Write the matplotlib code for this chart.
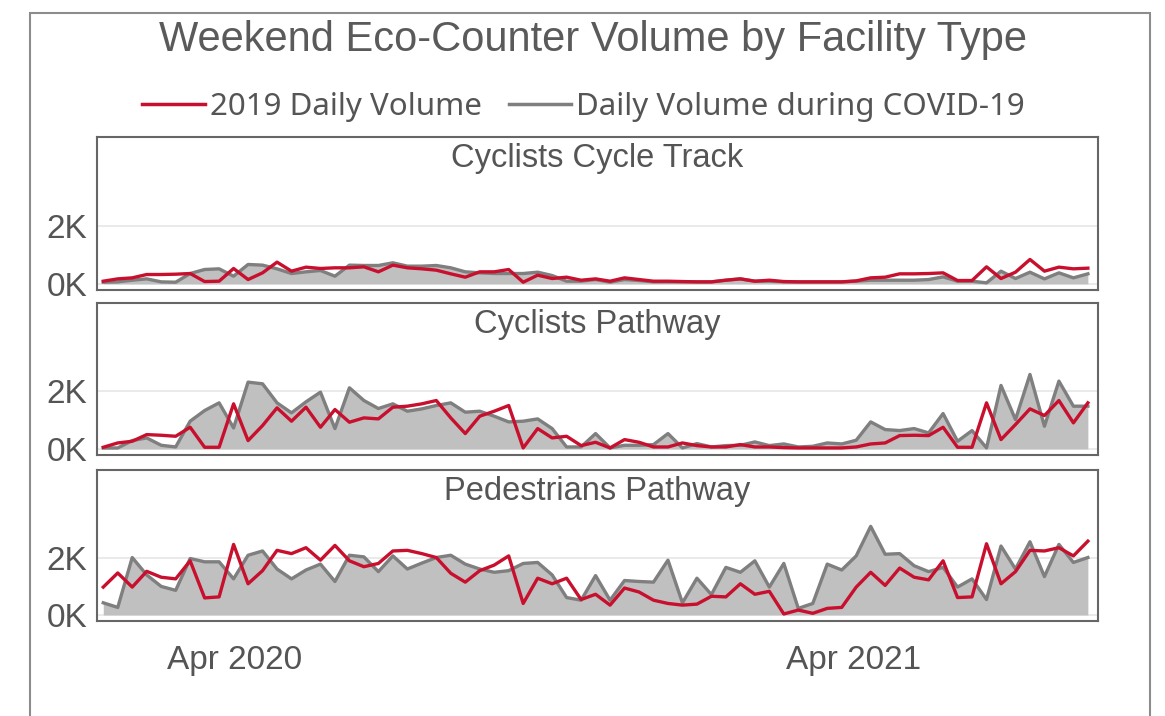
import matplotlib
matplotlib.use("Agg")
import matplotlib.pyplot as plt
from matplotlib.lines import Line2D
from matplotlib.patches import Rectangle

# one value per weekend sample
panels = ["Cyclists Cycle Track", "Cyclists Pathway", "Pedestrians Pathway"]

track_2019 = [92, 172, 207, 322, 322, 333, 356, 80, 92, 529, 149, 379, 747, 437, 575, 529, 552, 552,
              586, 414, 644, 552, 517, 471, 345, 230, 414, 414, 494, 57, 299, 184, 230, 126, 172,
              92, 207, 149, 92, 92, 80, 69, 69, 126, 172, 92, 126, 80, 69, 69, 69, 69, 103, 207,
              230, 345, 345, 356, 379, 115, 115, 586, 184, 402, 839, 437, 575, 517, 540]
track_covid = [57, 69, 126, 172, 69, 57, 356, 494, 517, 264, 667, 644, 517, 356, 414, 460, 264, 644,
               632, 632, 724, 609, 609, 632, 552, 414, 379, 356, 356, 356, 402, 287, 92, 92, 149,
               57, 149, 115, 69, 69, 69, 69, 69, 126, 172, 92, 92, 69, 69, 69, 69, 69, 92, 126,
               126, 126, 126, 149, 241, 92, 92, 35, 437, 184, 402, 172, 379, 207, 345]

path_2019 = [58, 208, 266, 497, 474, 439, 751, 58, 58, 1561, 289, 809, 1422, 960, 1445, 751, 1364,
             925, 1075, 1040, 1445, 1480, 1561, 1676, 1075, 532, 1133, 1306, 1503, 35, 705, 382,
             439, 116, 231, 35, 324, 231, 69, 69, 208, 116, 69, 69, 150, 69, 69, 46, 35, 35, 35,
             35, 69, 173, 208, 462, 474, 462, 751, 58, 58, 1595, 324, 844, 1387, 1156, 1676, 902,
             1595]
path_covid = [35, 35, 289, 382, 127, 69, 960, 1329, 1595, 728, 2312, 2254, 1595, 1249, 1630, 1965,
              705, 2116, 1676, 1399, 1561, 1306, 1387, 1503, 1595, 1272, 1306, 1133, 936, 960, 1040,
              705, 69, 69, 532, 35, 127, 127, 150, 532, 35, 185, 69, 116, 127, 243, 116, 173, 69,
              92, 208, 173, 301, 936, 671, 636, 705, 555, 1225, 266, 636, 35, 2197, 1017, 2578,
              786, 2347, 1480, 1480]

ped_2019 = [971, 1463, 971, 1520, 1314, 1257, 1886, 594, 629, 2457, 1086, 1543, 2251, 2137, 2343,
            1909, 2423, 1886, 1680, 1794, 2229, 2251, 2137, 2000, 1451, 1143, 1543, 1737, 2057, 400,
            1280, 1086, 1280, 537, 720, 343, 937, 800, 514, 400, 343, 377, 651, 629, 1086, 720, 823,
            34, 171, 57, 229, 263, 971, 1486, 1029, 1634, 1314, 1223, 1886, 606, 629, 2480, 1086,
            1509, 2251, 2229, 2343, 2057, 2571]
ped_covid = [423, 263, 2000, 1394, 994, 857, 1966, 1851, 1851, 1257, 2080, 2229, 1600, 1257, 1566,
             1771, 1166, 2080, 2023, 1509, 2057, 1600, 1806, 2000, 2080, 1771, 1600, 1486, 1543,
             1794, 1829, 1394, 606, 514, 1371, 514, 1200, 1166, 1143, 1909, 423, 1280, 709, 1657,
             1486, 1886, 971, 1794, 229, 400, 1771, 1566, 2057, 3086, 2114, 2137, 1714, 1509, 1657,
             971, 1257, 537, 2400, 1600, 2549, 1337, 2457, 1829, 2000]

series_2019 = [track_2019, path_2019, ped_2019]
series_covid = [track_covid, path_covid, ped_covid]

month_ticks = [9.1, 51.8]
month_labels = ["Apr 2020", "Apr 2021"]

RED = "#c8102e"
GRAY = "#7f7f7f"
FILL = "#c0c0c0"
TXT = "#555555"

fig = plt.figure(figsize=(11.65, 7.16), dpi=100)
fig.patch.set_facecolor("white")

# outer card border
fig.patches.append(Rectangle((30 / 1165, -0.05), 1120 / 1165, 1 - 13 / 716 + 0.05,
                             transform=fig.transFigure, fill=False, edgecolor="#8c8c8c",
                             lw=1.5, zorder=0))

boxes = [(0.595, 0.2137), (0.3645, 0.2123), (0.1327, 0.2109)]
x = list(range(len(track_2019)))

for k, name in enumerate(panels):
    bottom, height = boxes[k]
    ax = fig.add_axes([0.0833, bottom, 0.8592, height])
    ax.fill_between(x, 0, series_covid[k], color=FILL, lw=0, zorder=1)
    ax.plot(x, series_covid[k], color=GRAY, lw=2.4, zorder=2)
    ax.plot(x, series_2019[k], color=RED, lw=2.4, zorder=3)
    ax.set_xlim(-0.43, 68.7)
    ax.set_ylim(-210, 5050)
    ax.set_yticks([0, 2000])
    ax.set_yticklabels(["0K", "2K"], fontsize=24, color=TXT, family="Liberation Sans")
    ax.grid(axis="y", color="#e6e6e6", lw=1.2, zorder=0)
    ax.set_axisbelow(True)
    ax.tick_params(length=0, pad=7)
    for s in ax.spines.values():
        s.set_color("#666666")
        s.set_linewidth(1.5)
    ax.text(0.5, 0.858, name, transform=ax.transAxes, ha="center", va="center",
            fontsize=23.5, color=TXT, family="Liberation Sans")
    if k < 2:
        ax.set_xticks([])
    else:
        ax.set_xticks(month_ticks)
        ax.set_xticklabels(month_labels, fontsize=24, color=TXT, family="Liberation Sans")
        ax.tick_params(axis="x", pad=17)

fig.text(0.509, 0.944, "Weekend Eco-Counter Volume by Facility Type", ha="center", va="center",
         fontsize=30, color="#5a5a5a", family="Liberation Sans")

handles = [Line2D([], [], color=RED, lw=2.5), Line2D([], [], color=GRAY, lw=2.5)]
leg = fig.legend(handles, ["2019 Daily Volume", "Daily Volume during COVID-19"],
                 loc="center", bbox_to_anchor=(0.501, 0.851), ncol=2, frameon=False,
                 handlelength=2.0, handletextpad=0.16, columnspacing=0.86,
                 prop={"family": "Noto Sans", "size": 22.5})
for t in leg.get_texts():
    t.set_color(TXT)

fig.savefig("out.png", dpi=100)
